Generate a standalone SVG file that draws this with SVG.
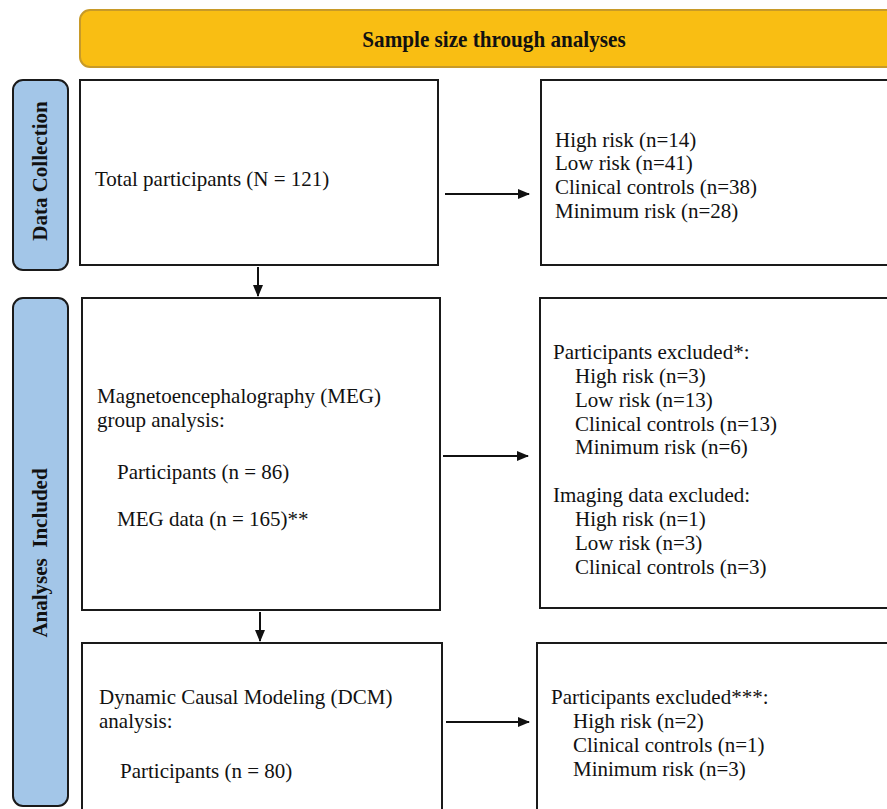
<svg xmlns="http://www.w3.org/2000/svg" width="887" height="809" viewBox="0 0 887 809">
<style>
.box{fill:#fff;stroke:#1a1a1a;stroke-width:2}
.lab{fill:#a3c6e8;stroke:#1a1a1a;stroke-width:2}
.t{font-family:"Liberation Serif","Times New Roman",serif;font-size:21px;fill:#111}
.b{font-family:"Liberation Serif","Times New Roman",serif;font-size:21px;font-weight:bold;fill:#111}
.c{stroke:#111;stroke-width:2;fill:none}
</style>
<defs>
<marker id="ah" markerWidth="12" markerHeight="10" refX="11" refY="5" orient="auto" markerUnits="userSpaceOnUse" viewBox="0 0 12 10">
<path d="M0,0 L12,5 L0,10 z" fill="#111"/>
</marker>
</defs>
<g id="banner">
<rect x="80" y="10" width="820" height="57" rx="10" fill="#f9be13" stroke="#c89a28" stroke-width="2"/>
<text class="b" x="494" y="47" text-anchor="middle" style="font-size:23px" transform="translate(494 0) scale(0.92 1) translate(-494 0)">Sample size through analyses</text>
</g>
<g id="label-data-collection">
<rect class="lab" x="13" y="80" width="55" height="190" rx="10"/>
<text class="b" transform="translate(47 171) rotate(-90)" text-anchor="middle">Data Collection</text>
</g>
<g id="label-analyses">
<rect class="lab" x="13" y="298" width="55" height="508" rx="10"/>
<text class="b" transform="translate(47 553) rotate(-90)" text-anchor="middle" xml:space="preserve">Analyses  Included</text>
</g>
<g id="total">
<rect class="box" x="80" y="80" width="358" height="185"/>
<text class="t" x="95" y="186">Total participants (N = 121)</text>
</g>
<g id="groups">
<rect class="box" x="541" y="80" width="360" height="185"/>
<text class="t" x="555" y="147">High risk (n=14)</text>
<text class="t" x="555" y="170">Low risk (n=41)</text>
<text class="t" x="555" y="194">Clinical controls (n=38)</text>
<text class="t" x="555" y="218">Minimum risk (n=28)</text>
</g>
<g id="meg">
<rect class="box" x="82" y="298" width="358" height="312"/>
<text class="t" x="97" y="403">Magnetoencephalography (MEG)</text>
<text class="t" x="97" y="427">group analysis:</text>
<text class="t" x="117" y="479">Participants (n = 86)</text>
<text class="t" x="117" y="526">MEG data (n = 165)**</text>
</g>
<g id="meg-excluded">
<rect class="box" x="540" y="298" width="360" height="310"/>
<text class="t" x="553" y="359">Participants excluded*:</text>
<text class="t" x="575" y="383">High risk (n=3)</text>
<text class="t" x="575" y="407">Low risk (n=13)</text>
<text class="t" x="575" y="431">Clinical controls (n=13)</text>
<text class="t" x="575" y="454">Minimum risk (n=6)</text>
<text class="t" x="553" y="502">Imaging data excluded:</text>
<text class="t" x="575" y="526">High risk (n=1)</text>
<text class="t" x="575" y="550">Low risk (n=3)</text>
<text class="t" x="575" y="574">Clinical controls (n=3)</text>
</g>
<g id="dcm">
<rect class="box" x="82" y="643" width="360" height="180"/>
<text class="t" x="99" y="704">Dynamic Causal Modeling (DCM)</text>
<text class="t" x="99" y="728">analysis:</text>
<text class="t" x="120" y="778">Participants (n = 80)</text>
</g>
<g id="dcm-excluded">
<rect class="box" x="537" y="643" width="363" height="180"/>
<text class="t" x="551" y="704">Participants excluded***:</text>
<text class="t" x="573" y="728">High risk (n=2)</text>
<text class="t" x="573" y="752">Clinical controls (n=1)</text>
<text class="t" x="573" y="776">Minimum risk (n=3)</text>
</g>
<g id="connectors">
<line class="c" x1="445" y1="194" x2="529" y2="194" marker-end="url(#ah)"/>
<line class="c" x1="258" y1="267" x2="258" y2="296" marker-end="url(#ah)"/>
<line class="c" x1="443" y1="456" x2="528" y2="456" marker-end="url(#ah)"/>
<line class="c" x1="260" y1="612" x2="260" y2="641" marker-end="url(#ah)"/>
<line class="c" x1="446" y1="722" x2="529" y2="722" marker-end="url(#ah)"/>
</g>
</svg>
